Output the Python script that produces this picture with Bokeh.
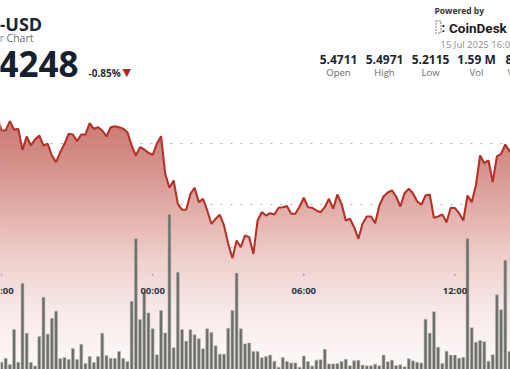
import numpy as np
import pandas as pd
from bokeh.plotting import figure
from bokeh.models import Range1d, Grid, FixedTicker, Label, BoxAnnotation
from bokeh.embed import file_html
from bokeh.resources import INLINE
from bokeh.core.properties import value

# ---------------- data ----------------
price_start = "2025-07-14 17:50"
price = [5.4450,
         5.4213, 5.4213, 5.4366, 5.4224, 5.4240, 5.3896, 5.4115, 5.3967, 5.4066, 5.4131,
         5.3967, 5.3995, 5.3803, 5.3694, 5.3858, 5.3995, 5.4159, 5.4148, 5.4038, 5.4148,
         5.4148, 5.4333, 5.4240, 5.4267, 5.4213, 5.4115, 5.4267, 5.4284, 5.4267, 5.4240,
         5.4185, 5.3967, 5.3803, 5.3940, 5.3902, 5.3847, 5.3814, 5.3995, 5.4120, 5.3503,
         5.3274, 5.3393, 5.3011, 5.2913, 5.2913, 5.3175, 5.3274, 5.3038, 5.3093, 5.2902,
         5.2683, 5.2765, 5.2831, 5.2656, 5.2356, 5.2120, 5.2410, 5.2300, 5.2492, 5.2464,
         5.2192, 5.2738, 5.2874, 5.2820, 5.2858, 5.2836, 5.2946, 5.2956, 5.2973, 5.2847,
         5.2847, 5.2967, 5.3110, 5.2956, 5.2946, 5.2902, 5.2874, 5.2956, 5.3093, 5.2929,
         5.3164, 5.3011, 5.2738, 5.2765, 5.2628, 5.2438, 5.2683, 5.2803, 5.2803, 5.2694,
         5.2984, 5.3131, 5.3197, 5.3230, 5.3131, 5.2967, 5.3185, 5.3257, 5.3185, 5.3054,
         5.2995, 5.3148, 5.3164, 5.2782, 5.2803, 5.2836, 5.2710, 5.2946, 5.2940, 5.2858,
         5.2738, 5.3148, 5.3038, 5.3311, 5.3803, 5.3677, 5.3721, 5.3366, 5.3787, 5.3831,
         5.3984, 5.3874, 5.3850]

vol_start = "2025-07-14 18:00"
volume_k = [3.0, 4.6, 2.0, 16.4, 3.0, 35.3, 14.9, 2.9, 1.4, 13.5,
            29.6, 14.5, 21.0, 23.9, 4.5, 4.9, 4.1, 8.6, 4.1, 10.3,
            2.5, 5.3, 2.9, 5.3, 14.9, 5.7, 4.6, 4.5, 7.4, 4.5,
            3.3, 28.0, 53.6, 20.5, 31.7, 23.2, 16.7, 6.0, 24.2, 15.0,
            63.6, 8.9, 39.9, 16.4, 11.6, 16.3, 14.2, 12.6, 8.5, 16.7,
            15.2, 9.7, 6.3, 6.3, 16.9, 24.2, 39.5, 16.7, 10.5, 10.9,
            7.4, 7.4, 4.8, 5.3, 5.9, 3.4, 0.9, 4.9, 3.3, 2.7,
            2.7, 0.9, 5.5, 3.3, 1.4, 3.8, 4.0, 8.3, 2.3, 2.3,
            2.5, 3.3, 4.2, 1.5, 3.6, 3.8, 1.8, 1.5, 1.5, 2.2,
            1.5, 5.9, 3.2, 3.8, 1.6, 1.9, 1.1, 4.4, 3.6, 3.0,
            2.7, 20.6, 14.9, 23.7, 9.1, 2.5, 7.5, 5.9, 5.9, 4.6,
            5.0, 53.6, 17.1, 11.2, 11.9, 11.4, 3.4, 6.0, 30.6, 24.5,
            44.8, 7.4]

tick_times = ["2025-07-14 18:00", "2025-07-15 00:00", "2025-07-15 06:00", "2025-07-15 12:00"]
tick_labels = ["18:00", "00:00", "06:00", "12:00"]
price_grid = [5.3, 5.4]
vol_grid = [50]

title_text = "-USD"
subtitle_text = "r Chart"
last_price_text = "4248"
change_text = "-0.85%"
date_text = "15 Jul 2025 16:00"
stat_values = ["5.4711", "5.4971", "5.2115", "1.59 M"]
stat_names = ["Open", "High", "Low", "Vol"]

# ---------------- layout constants ----------------
W, H = 510, 369
PX_PER_HOUR = 25.19
Y_TOP, Y_BOT = 5.6344, 5.0295
VOL_TOP = 151.2
FONT = "Open Sans"
# gradient stops: (screen y in px, rgb)
GRAD = [(100, (198, 110, 102)), (160, (212, 142, 136)), (210, (226, 175, 170)),
        (260, (239, 208, 205)), (310, (247, 233, 232)), (369, (253, 250, 250))]

ms = lambda t: pd.Timestamp(t).value / 1e6
price_times = pd.date_range(price_start, periods=len(price), freq="10min")
vol_times = pd.date_range(vol_start, periods=len(volume_k), freq="10min")
t0 = pd.Timestamp("2025-07-14 18:00")
x_start = t0 - pd.Timedelta(hours=1.0 / PX_PER_HOUR)
x_end = x_start + pd.Timedelta(hours=W / PX_PER_HOUR)

p = figure(width=W, height=H, x_range=Range1d(x_start, x_end),
           y_range=Range1d(Y_BOT, Y_TOP), x_axis_type="datetime",
           x_axis_location=None, y_axis_location=None,
           output_backend="svg", toolbar_location=None, min_border=0)
p.outline_line_color = None
p.background_fill_color = "white"
p.border_fill_color = "white"
p.grid.visible = False
p.extra_y_ranges = {"vol": Range1d(0, VOL_TOP)}


def screen_to_price(ys):
    return Y_TOP - (ys / H) * (Y_TOP - Y_BOT)


def price_to_screen(v):
    return (Y_TOP - v) / (Y_TOP - Y_BOT) * H


# ---------------- gradient area ----------------
px = np.array([ms(t) for t in price_times])
py = np.array(price, dtype=float)
n_bands = 80
fill_top = py.max() + 0.002
levels = np.linspace(Y_BOT, fill_top, n_bands + 1)


def densify(xs, ys, lv):
    X, Y = [xs[0]], [ys[0]]
    for i in range(len(xs) - 1):
        x0, x1, y0, y1 = xs[i], xs[i + 1], ys[i], ys[i + 1]
        if y1 != y0:
            lo, hi = min(y0, y1), max(y0, y1)
            ts = sorted((L - y0) / (y1 - y0) for L in lv if lo < L < hi)
            for t in ts:
                X.append(x0 + t * (x1 - x0))
                Y.append(y0 + t * (y1 - y0))
        X.append(x1)
        Y.append(y1)
    return np.array(X), np.array(Y)


Xd, Yd = densify(px, py, levels)
gy = np.array([g[0] for g in GRAD], dtype=float)
gc = np.array([g[1] for g in GRAD], dtype=float)
for k in range(n_bands):
    lo = levels[k]
    mid = 0.5 * (levels[k] + levels[k + 1])
    sy = price_to_screen(mid)
    c = [int(round(np.interp(sy, gy, gc[:, j]))) for j in range(3)]
    col = "#%02x%02x%02x" % tuple(c)
    p.varea(x=Xd, y1=np.full_like(Yd, lo), y2=np.maximum(Yd, lo),
            fill_color=col, fill_alpha=1.0)

# ---------------- grids ----------------
g1 = Grid(dimension=1, ticker=FixedTicker(ticks=price_grid),
          grid_line_color="#b4b4b4", grid_line_dash="2 8", grid_line_width=1)
g2 = Grid(dimension=1, ticker=FixedTicker(ticks=vol_grid), y_range_name="vol",
          grid_line_color="#b4b4b4", grid_line_dash="2 8", grid_line_width=1)
p.add_layout(g1)
p.add_layout(g2)

# ---------------- volume bars ----------------
bar_w = 10 * 60 * 1000 * 0.7
p.vbar(x=vol_times, top=volume_k, bottom=0, width=bar_w, y_range_name="vol",
       fill_color="#6d6d68", line_color="#b9b9b3", line_width=0.6)

# ---------------- price line ----------------
p.line(price_times, price, line_color="#b3322a", line_width=2.1)

# ---------------- time axis labels ----------------
tt = pd.to_datetime(tick_times)
p.text(x=tt, y=[screen_to_price(289.5)] * len(tt), text=tick_labels,
       text_font=value(FONT), text_font_style="bold", text_font_size="9.5px",
       text_color="#2b3440", text_align="center", text_baseline="middle")
p.scatter(x=tt, y=[screen_to_price(274.3)] * len(tt), marker="square",
          size=1.6, color="#9a9a9a", line_color=None)


# ---------------- header ----------------
def lab(text, x, yc, size, color, bold=False, align="left", font=FONT):
    p.add_layout(Label(x=x, y=H - yc, x_units="screen", y_units="screen", text=text,
                       text_font=font, text_font_size=size, text_color=color,
                       text_font_style="bold" if bold else "normal",
                       text_align=align, text_baseline="middle"))


lab(title_text, -1, 23.5, "18px", "#1b2433", bold=True)
lab(subtitle_text, -1, 37.5, "10.5px", "#6b6b6b")
lab(last_price_text, -2, 63, "35px", "#16202e", bold=True)
lab(change_text, 88, 72.5, "10px", "#2c2c2c", bold=True)
lab("\u25BC", 122, 72, "11px", "#b3261e", font="DejaVu Sans")
lab("Powered by", 434, 9.5, "8.5px", "#333333", bold=True)
p.add_layout(BoxAnnotation(left=435.5, right=440.5, top=H - 20.5, bottom=H - 32.5,
                           left_units="screen", right_units="screen",
                           top_units="screen", bottom_units="screen",
                           fill_alpha=0, line_color="#1b1b1b", line_width=2,
                           line_dash="2 1"))
lab(":", 441, 27, "13px", "#1b1b1b", bold=True, font="Roboto")
lab("CoinDesk", 448.5, 27, "13.5px", "#1b1b1b", bold=True, font="Roboto")
lab(date_text, 440, 43.5, "9.5px", "#8f8f8f")
stat_x = [338, 384, 430, 476]
for sx, sv, sn in zip(stat_x, stat_values, stat_names):
    lab(sv, sx, 58.5, "12px", "#1b2433", bold=True, align="center")
    lab(sn, sx, 71.5, "9.5px", "#6b6b6b", align="center")
lab("8", 505, 58.5, "12px", "#1b2433", bold=True)
lab("V", 507, 71.5, "9.5px", "#6b6b6b")

open("out.html", "w").write(file_html(p, INLINE))
